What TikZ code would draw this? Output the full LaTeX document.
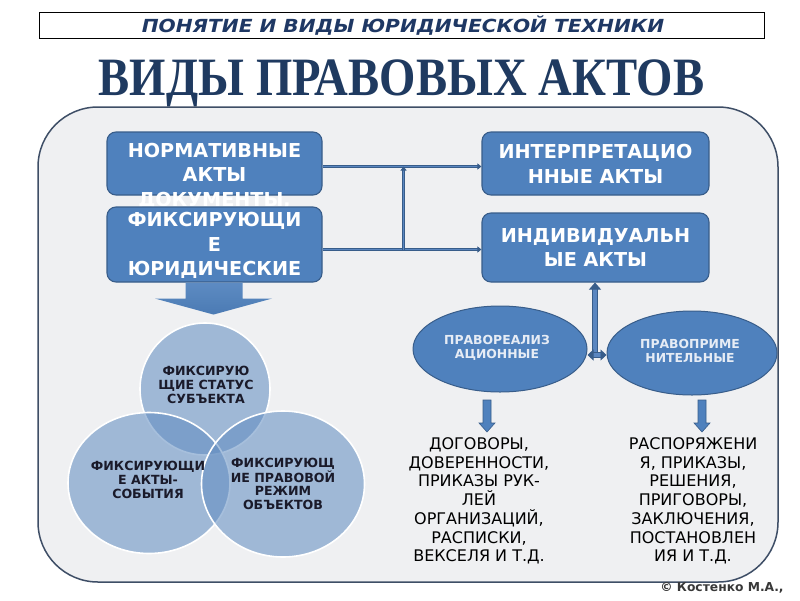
\documentclass[tikz,border=0pt]{standalone}
\usepackage{fontspec}
\usepackage{graphicx}
\setmainfont{DejaVu Sans}
\newfontfamily\dfont{DejaVu Sans}
\newfontfamily\serfont{Liberation Serif}
\usetikzlibrary{arrows.meta,shapes.geometric,calc}

\definecolor{boxblue}{HTML}{4F81BD}
\definecolor{boxedge}{HTML}{385D8A}
\definecolor{navy}{HTML}{1F3864}
\definecolor{bignavy}{HTML}{1F3A60}
\definecolor{panelfill}{HTML}{EFF0F2}
\definecolor{paneledge}{HTML}{3E4E66}
\definecolor{vennc}{HTML}{628DC1}
\definecolor{conninner}{HTML}{5A86C0}
\definecolor{venntext}{HTML}{1A1A2A}
\definecolor{elltext}{HTML}{E6ECF5}

\begin{document}
\begin{tikzpicture}[x=1pt,y=-1pt,
  boxn/.style={draw=boxedge, line width=1.1pt, fill=boxblue, rounded corners=9pt, inner sep=0pt},
  boxtext/.style={text=white, align=center, inner sep=0pt,
    font=\dfont\bfseries\fontsize{19.2}{24.5}\selectfont},
  conn/.style={draw=boxedge, line width=0.8pt, double=conninner, double distance=1.6pt},
  bigconn/.style={draw=boxedge, line width=0.9pt, double=conninner, double distance=4pt},
  venn/.style={ellipse, draw=white, line width=1.6pt, fill=vennc, fill opacity=0.56, inner sep=0pt},
  venntxt/.style={text=venntext, align=center, inner sep=0pt,
    font=\dfont\bfseries\fontsize{12.6}{13.6}\selectfont},
  ell/.style={ellipse, draw=boxedge, line width=1pt, fill=boxblue, inner sep=0pt},
  elltxt/.style={text=elltext, align=center, inner sep=0pt,
    font=\dfont\bfseries\fontsize{12.4}{14}\selectfont},
  listtxt/.style={text=black, align=center, inner sep=0pt,
    font=\dfont\fontsize{16}{18.7}\selectfont},
  smallarrow/.style={fill=boxblue, draw=boxedge, line width=0.6pt}
]
\useasboundingbox (0,0) rectangle (800,600);
\fill[white] (0,0) rectangle (800,600);

% title box
\node[draw=black, line width=0.8pt, fill=white, minimum width=725pt, minimum height=26pt, inner sep=0pt] (tbox) at (402,25.5) {};
\node[text=navy, inner sep=0pt, font=\dfont\bfseries\itshape\fontsize{18}{20}\selectfont] (ttext) at (403,25.5)
  {\scalebox{1.12}[1]{ПОНЯТИЕ И ВИДЫ ЮРИДИЧЕСКОЙ ТЕХНИКИ}};

% big title
\node[text=bignavy, inner sep=0pt, anchor=base, font=\serfont\bfseries\fontsize{54}{60}\selectfont] (big) at (401.5,95.5)
  {\scalebox{0.865}[1]{ВИДЫ ПРАВОВЫХ АКТОВ}};

% panel
\draw[paneledge, line width=1.5pt, fill=panelfill, rounded corners=60pt] (38,107) rectangle (778,582);

% boxes
\node[boxn, minimum width=215pt, minimum height=63pt] (norm) at (214.5,163.5) {};
\node[boxn, minimum width=227pt, minimum height=63pt] (interp) at (595.5,163.5) {};
\node[boxn, minimum width=227pt, minimum height=69pt] (indiv) at (595.5,247.5) {};

% connectors left -> right
\path (norm.east) ++(81,3) coordinate (vt);
\path (norm.east) ++(81,86) coordinate (vb);
\draw[conn, -{Triangle[length=4pt,width=6pt]}] (norm.east |- vt) -- (interp.west |- vt);
\draw[conn, -{Triangle[length=4pt,width=6pt]}] (norm.east |- vb) -- (interp.west |- vb);
\draw[conn, {Triangle[length=4pt,width=6pt]}-] (vt) -- (vb);

\node[boxtext] (normtext) at (214.5,176) {НОРМАТИВНЫЕ\\АКТЫ\\ДОКУМЕНТЫ,};
\node[boxn, minimum width=215pt, minimum height=75pt] (fix) at (214.5,244.5) {};
\node[boxtext] (fixtext) at (214.5,245.5) {ФИКСИРУЮЩИ\\Е\\ЮРИДИЧЕСКИЕ};
\node[boxtext] (interptext) at (595.5,164) {ИНТЕРПРЕТАЦИО\\ННЫЕ АКТЫ};
\node[boxtext] (indivtext) at (595.5,247.5) {ИНДИВИДУАЛЬН\\ЫЕ АКТЫ};

% big down arrow
\shade[top color=boxblue!92!white, bottom color=boxblue!95!black] ($(fix.south)+(-29,0)$) -- ($(fix.south)+(28,0)$) -- ($(fix.south)+(28,16)$) -- ($(fix.south)+(57.5,16)$) -- ($(fix.south)+(-1,32)$) -- ($(fix.south)+(-59.5,16)$) -- ($(fix.south)+(-29,16)$) -- cycle;

% venn
\node[venn, minimum width=130pt, minimum height=132pt] (vtop) at (205,389) {};
\node[venn, minimum width=162pt, minimum height=141pt] (vleft) at (149,483) {};
\node[venn, minimum width=163pt, minimum height=146pt] (vright) at (283,484) {};
\node[venntxt] (vtoptext) at (206,385) {ФИКСИРУЮ\\ЩИЕ СТАТУС\\СУБЪЕКТА};
\node[venntxt] (vlefttext) at (148,480) {ФИКСИРУЮЩИ\\Е АКТЫ-\\СОБЫТИЯ};
\node[venntxt] (vrighttext) at (283,484) {ФИКСИРУЮЩ\\ИЕ ПРАВОВОЙ\\РЕЖИМ\\ОБЪЕКТОВ};

% ellipses
\node[ell, minimum width=174pt, minimum height=86pt] (lell) at (500,349) {};
\node[ell, minimum width=170pt, minimum height=84pt] (rell) at (692,353) {};
\node[elltxt] (lelltext) at (497,347.5) {ПРАВОРЕАЛИЗ\\АЦИОННЫЕ};
\node[elltxt] (relltext) at (690,350.5) {ПРАВОПРИМЕ\\НИТЕЛЬНЫЕ};

% junction arrows
\coordinate (j) at (595,355);
\draw[bigconn, -{Triangle[length=7pt,width=12pt]}] (j) -- (j |- indiv.south);
\draw[bigconn, {Triangle[length=6pt,width=11pt]}-{Triangle[length=6pt,width=11pt]}] (lell.east |- j) -- (rell.west |- j);

% lists
\node[listtxt] (llist) at (479,501) {ДОГОВОРЫ,\\ДОВЕРЕННОСТИ,\\ПРИКАЗЫ РУК-\\ЛЕЙ\\ОРГАНИЗАЦИЙ,\\РАСПИСКИ,\\ВЕКСЕЛЯ И Т.Д.};
\node[listtxt] (rlist) at (693,501) {РАСПОРЯЖЕНИ\\Я, ПРИКАЗЫ,\\РЕШЕНИЯ,\\ПРИГОВОРЫ,\\ЗАКЛЮЧЕНИЯ,\\ПОСТАНОВЛЕН\\ИЯ И Т.Д.};

% small down arrows
\draw[smallarrow] (483,400) -- (491,400) -- (491,423) -- (495,423) -- (487,432) -- (479,423) -- (483,423) -- cycle;
\draw[smallarrow] (698,400) -- (706,400) -- (706,423) -- (710,423) -- (702,432) -- (694,423) -- (698,423) -- cycle;

% copyright
\node[text=black!78, inner sep=0pt, font=\dfont\bfseries\fontsize{12.3}{14}\selectfont] (copy) at (722,588) {© Костенко М.А.,};
\end{tikzpicture}
\end{document}
